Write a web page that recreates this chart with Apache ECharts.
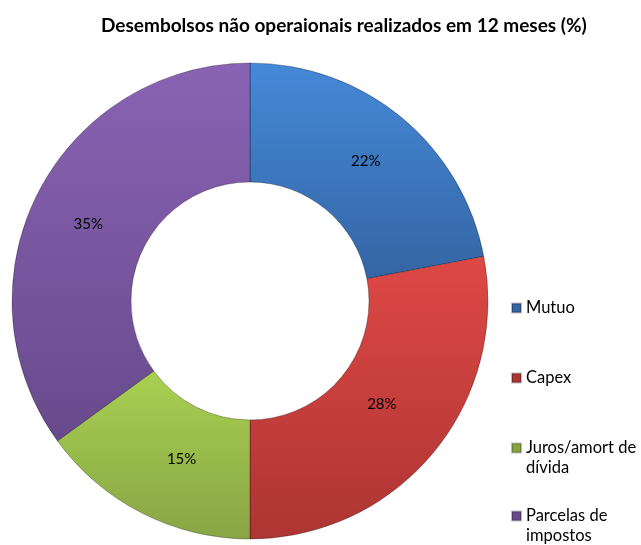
<!DOCTYPE html>
<html>
<head>
<meta charset="utf-8">
<script src="https://cdn.jsdelivr.net/npm/echarts@6/dist/echarts.min.js"></script>
<style>
  html, body { margin: 0; padding: 0; background: #fff; }
  #main { width: 641px; height: 545px; }
</style>
</head>
<body>
<div id="main"></div>
<script>
var myChart = echarts.init(document.getElementById('main'));

const categories = ['Mutuo', 'Capex', 'Juros/amort de dívida', 'Parcelas de impostos'];
const values = [22, 28, 15, 35];
// legend text as shown (wrapped); blank first line keeps the icon on the first text line
const legendText = {
  'Mutuo': 'Mutuo',
  'Capex': 'Capex',
  'Juros/amort de dívida': '\nJuros/amort de\ndívida',
  'Parcelas de impostos': '\nParcelas de\nimpostos'
};
const legendTops = [293, 363, 413, 481];

// top / bottom shades for each slice
const colorPairs = [
  ['#4589d8', '#3465a4'],
  ['#de4845', '#ad3533'],
  ['#a9d051', '#88a544'],
  ['#8a63b4', '#684a8c']
];
// small nudges so labels sit where the original put them
const labelNudge = [[0, 0], [-8, -13], [14, -4], [0, 6]];

function grad(pair) {
  return new echarts.graphic.LinearGradient(0, 0, 0, 1, [
    { offset: 0, color: pair[0] },
    { offset: 1, color: pair[1] }
  ]);
}

const data = categories.map(function (name, i) {
  return {
    name: name,
    value: values[i],
    itemStyle: { color: grad(colorPairs[i]) },
    label: { offset: labelNudge[i] }
  };
});

const legends = categories.map(function (name, i) {
  return {
    data: [{ name: name, itemStyle: { color: colorPairs[i][1] } }],
    left: 506,
    top: legendTops[i],
    orient: 'vertical',
    icon: 'rect',
    itemWidth: 9,
    itemHeight: 9,
    selectedMode: false,
    formatter: function (n) { return legendText[n]; },
    textStyle: {
      fontFamily: 'Lato',
      fontSize: 16.5,
      lineHeight: 20,
      color: '#000'
    }
  };
});

const option = {
  title: {
    text: 'Desembolsos não operaionais realizados em 12 meses (%)',
    left: 96,
    top: 11,
    textStyle: {
      fontFamily: 'Lato',
      fontWeight: 'bold',
      fontSize: 19,
      color: '#000'
    }
  },
  legend: legends,
  series: [
    {
      type: 'pie',
      center: [250, 301],
      radius: [119, 238],
      startAngle: 90,
      clockwise: true,
      silent: true,
      label: {
        show: true,
        position: 'inside',
        formatter: '{c}%',
        fontFamily: 'Lato',
        fontSize: 15,
        color: '#000'
      },
      labelLine: { show: false },
      itemStyle: {
        borderColor: 'rgba(0,0,0,0.25)',
        borderWidth: 0.6
      },
      data: data
    }
  ]
};

myChart.setOption(option);
</script>
</body>
</html>
